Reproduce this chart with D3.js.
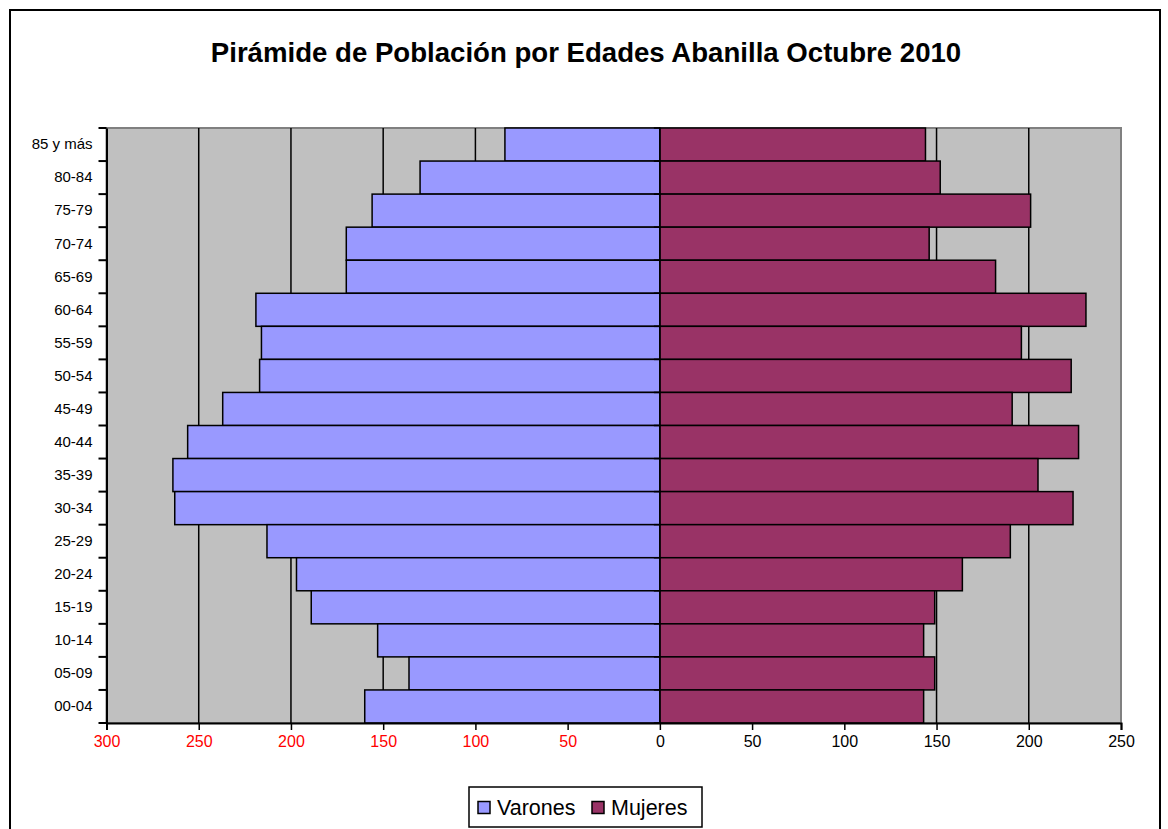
<!DOCTYPE html>
<html><head><meta charset="utf-8">
<script src="https://cdn.jsdelivr.net/npm/d3@7"></script>
<style>
html,body{margin:0;padding:0;background:#fff;}
svg{display:block;font-family:Arial,"Liberation Sans",sans-serif;}
</style></head>
<body>
<svg id="chart" width="1168" height="829"></svg>
<script>
const title = "Pirámide de Población por Edades Abanilla Octubre 2010";
const categories = ["85 y más","80-84","75-79","70-74","65-69","60-64","55-59","50-54","45-49","40-44","35-39","30-34","25-29","20-24","15-19","10-14","05-09","00-04"];
const varones = [84,130,156,170,170,219,216,217,237,256,264,263,213,197,189,153,136,160];
const mujeres = [144,152,201,146,182,231,196,223,191,227,205,224,190,164,149,143,149,143];
const leftTicks = [300,250,200,150,100,50];
const rightTicks = [0,50,100,150,200,250];
const seriesNames = ["Varones","Mujeres"];
const colors = {Varones:"#9999FF", Mujeres:"#993366"};

const svg = d3.select("#chart");
const L = 106.5, R = 1121, T = 128, B = 723;

// outer frame
svg.append("rect").attr("x",10).attr("y",10).attr("width",1150).attr("height",830)
  .attr("fill","#fff").attr("stroke","#000").attr("stroke-width",2);

svg.append("text").attr("x",586).attr("y",62).attr("text-anchor","middle")
  .attr("font-size",27.6).attr("font-weight","bold").attr("fill","#000").text(title);

const x = d3.scaleLinear().domain([-300,250]).range([L,R]);
const y = d3.scaleBand().domain(categories).range([T,B]).padding(0);

// plot area
svg.append("rect").attr("x",L).attr("y",T).attr("width",R-L).attr("height",B-T)
  .attr("fill","#C0C0C0").attr("stroke","#808080").attr("stroke-width",2);

// gridlines
const grid = [-250,-200,-150,-100,-50,50,100,150,200];
svg.append("g").selectAll("line").data(grid).join("line")
  .attr("x1",d=>x(d)).attr("x2",d=>x(d)).attr("y1",T).attr("y2",B)
  .attr("stroke","#000").attr("stroke-width",1.5);

// bars
svg.append("g").selectAll("rect").data(categories).join("rect")
  .attr("x",(d,i)=>x(-varones[i])).attr("y",d=>y(d))
  .attr("width",(d,i)=>x(0)-x(-varones[i])).attr("height",y.bandwidth())
  .attr("fill",colors.Varones).attr("stroke","#000").attr("stroke-width",1.5);
svg.append("g").selectAll("rect").data(categories).join("rect")
  .attr("x",x(0)).attr("y",d=>y(d))
  .attr("width",(d,i)=>x(mujeres[i])-x(0)).attr("height",y.bandwidth())
  .attr("fill",colors.Mujeres).attr("stroke","#000").attr("stroke-width",1.5);

// zero line with small ticks
svg.append("line").attr("x1",x(0)).attr("x2",x(0)).attr("y1",T).attr("y2",B)
  .attr("stroke","#000").attr("stroke-width",1.5);
const bounds = categories.map(c=>y(c)).concat([B]);
svg.append("g").selectAll("line").data(bounds).join("line")
  .attr("x1",x(0)-6).attr("x2",x(0)).attr("y1",d=>d).attr("y2",d=>d)
  .attr("stroke","#000").attr("stroke-width",1.5);

// left category axis
const yAxis = d3.axisLeft(y).tickSize(0).tickPadding(14);
const gy = svg.append("g").attr("transform",`translate(${L},0)`).call(yAxis);
gy.select(".domain").attr("stroke","#000").attr("stroke-width",2);
gy.selectAll("text").attr("font-size",15).attr("font-family","Arial,'Liberation Sans',sans-serif").attr("fill","#000");
svg.append("g").selectAll("line").data(bounds).join("line")
  .attr("x1",L-8).attr("x2",L).attr("y1",d=>d).attr("y2",d=>d)
  .attr("stroke","#000").attr("stroke-width",2);

// bottom value axis
const tickVals = leftTicks.map(v=>-v).concat(rightTicks);
const xAxis = d3.axisBottom(x).tickValues(tickVals).tickSize(7).tickPadding(6)
  .tickFormat(d=>String(Math.abs(d)));
const gx = svg.append("g").attr("transform",`translate(0,${B})`).call(xAxis);
gx.select(".domain").attr("stroke","#000").attr("stroke-width",2);
gx.selectAll(".tick line").attr("stroke","#000").attr("stroke-width",1.5);
gx.selectAll("text").attr("font-size",16).attr("font-family","Arial,'Liberation Sans',sans-serif")
  .attr("fill",d=>d<0?"#FF0000":"#000");

// legend
const lg = svg.append("g");
lg.append("rect").attr("x",469).attr("y",787).attr("width",233).attr("height",40)
  .attr("fill","#fff").attr("stroke","#000").attr("stroke-width",1.5);
const legX = [478,592];
seriesNames.forEach((s,i)=>{
  lg.append("rect").attr("x",legX[i]).attr("y",801.5).attr("width",12).attr("height",12)
    .attr("fill",colors[s]).attr("stroke","#000").attr("stroke-width",1.5);
  lg.append("text").attr("x",legX[i]+19).attr("y",814.5).attr("font-size",21.5).attr("fill","#000").text(s);
});
</script>
</body></html>
